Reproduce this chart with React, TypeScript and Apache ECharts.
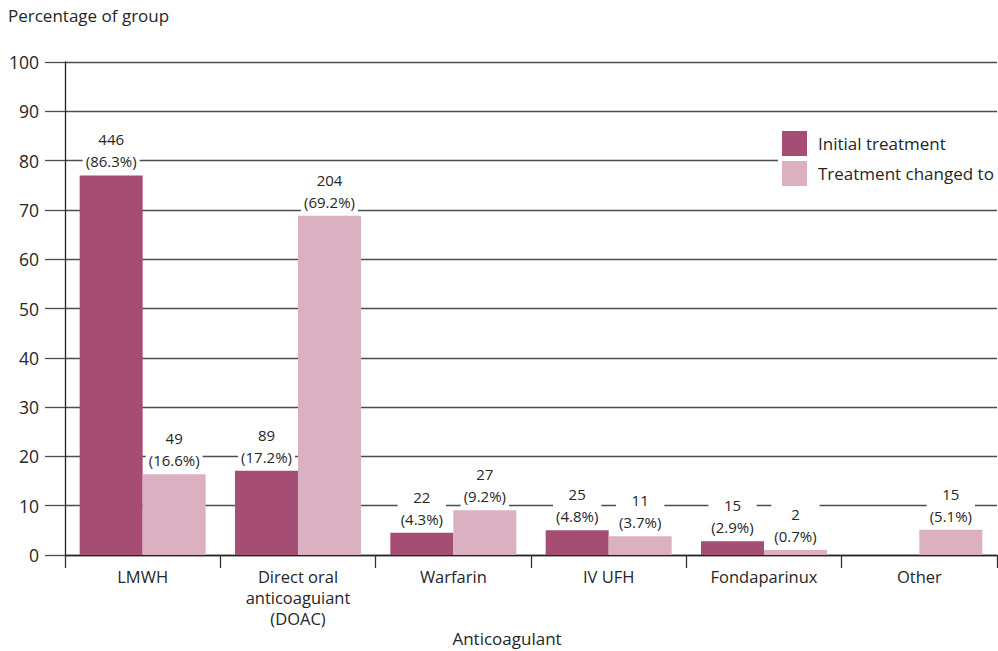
import React, { useEffect, useRef } from "react";
import * as echarts from "echarts";

const categories = [
  "LMWH",
  "Direct oral\nanticoaguiant\n(DOAC)",
  "Warfarin",
  "IV UFH",
  "Fondaparinux",
  "Other",
];
const seriesNames = ["Initial treatment", "Treatment changed to"];
const initialValues = [77, 17.1, 4.5, 5.0, 2.8, null];
const changedValues = [16.4, 68.8, 9.1, 3.8, 1.0, 5.1];
const initialCounts = ["446", "89", "22", "25", "15", ""];
const initialPct = ["86.3%", "17.2%", "4.3%", "4.8%", "2.9%", ""];
const changedCounts = ["49", "204", "27", "11", "2", "15"];
const changedPct = ["16.6%", "69.2%", "9.2%", "3.7%", "0.7%", "5.1%"];
const yTicks = { min: 0, max: 100, interval: 10 };
const yTitle = "Percentage of group";
const xTitle = "Anticoagulant";

const FONT = "'Open Sans', 'Noto Sans', sans-serif";
const TEXT = "#262626";
const LINE = "#4d4d4d";

export default function App() {
  const ref = useRef<HTMLDivElement>(null);
  useEffect(() => {
    document.body.style.margin = "0";
    const chart = echarts.init(ref.current!, null, { renderer: "svg" });
    const makeLabel = (counts: string[], pcts: string[]) => ({
      show: true,
      position: "top",
      distance: 3,
      color: TEXT,
      fontFamily: FONT,
      fontSize: 15,
      lineHeight: 22,
      backgroundColor: "#ffffff",
      padding: [0, 3, 0, 3],
      formatter: (p: any) =>
        counts[p.dataIndex] ? `${counts[p.dataIndex]}\n(${pcts[p.dataIndex]})` : "",
    });
    chart.setOption({
      animation: false,
      textStyle: { fontFamily: FONT },
      grid: {
        left: 65,
        right: 1,
        top: 62,
        bottom: 96,
        containLabel: false,
        outerBoundsMode: "none",
      },
      graphic: [
        {
          type: "text",
          left: 8,
          top: 7,
          style: { text: yTitle, fontSize: 17, fill: TEXT, fontFamily: FONT },
        },
        {
          type: "text",
          x: 507,
          y: 638,
          style: {
            text: xTitle,
            fontSize: 17,
            fill: TEXT,
            fontFamily: FONT,
            align: "center",
            verticalAlign: "middle",
          },
        },
      ],
      legend: {
        orient: "vertical",
        left: 778,
        top: 127,
        padding: 4,
        backgroundColor: "#ffffff",
        itemWidth: 25,
        itemHeight: 25,
        itemGap: 5,
        icon: "rect",
        textStyle: { fontSize: 17, color: TEXT, fontFamily: FONT, padding: [0, 0, 0, 6] },
        data: seriesNames,
      },
      xAxis: {
        type: "category",
        data: categories,
        axisLine: { lineStyle: { color: "#222", width: 1.3 } },
        axisTick: { show: true, length: 13, lineStyle: { color: "#333", width: 1.3 } },
        axisLabel: {
          fontSize: 16.5,
          lineHeight: 21,
          color: TEXT,
          margin: 11,
          fontFamily: FONT,
          interval: 0,
        },
      },
      yAxis: {
        type: "value",
        min: yTicks.min,
        max: yTicks.max,
        interval: yTicks.interval,
        axisLine: { show: true, lineStyle: { color: "#222", width: 1.3 } },
        axisTick: { show: true, length: 20, lineStyle: { color: LINE, width: 1.3 } },
        splitLine: { show: true, lineStyle: { color: LINE, width: 1.3 } },
        axisLabel: { fontSize: 17.5, color: TEXT, margin: 26, fontFamily: FONT },
      },
      series: [
        {
          name: seriesNames[0],
          type: "bar",
          data: initialValues,
          barGap: "0%",
          barCategoryGap: "18.9%",
          itemStyle: { color: "#a64d73" },
          label: makeLabel(initialCounts, initialPct),
        },
        {
          name: seriesNames[1],
          type: "bar",
          data: changedValues,
          barGap: "0%",
          barCategoryGap: "18.9%",
          itemStyle: { color: "#dbb1c2" },
          label: makeLabel(changedCounts, changedPct),
        },
      ],
    });
    return () => chart.dispose();
  }, []);
  return <div ref={ref} style={{ width: 998, height: 651 }} />;
}
